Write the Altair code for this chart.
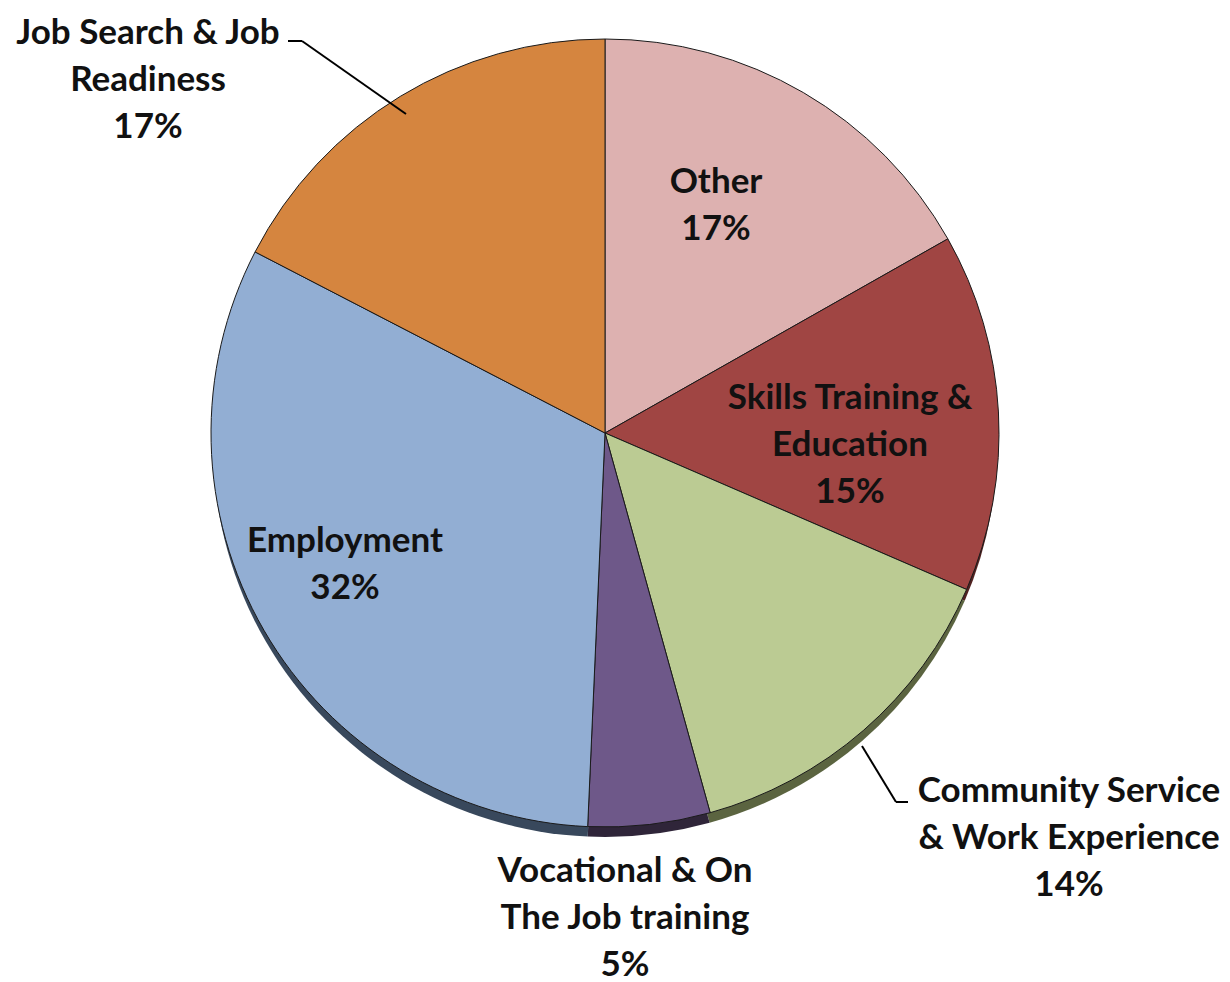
import altair as alt
import pandas as pd

categories = ["Other", "Skills Training & Education", "Community Service & Work Experience",
              "Vocational & On The Job training", "Employment", "Job Search & Job Readiness"]
values = [16.8, 14.7, 14.2, 5.0, 31.9, 17.4]
pct_labels = [17, 15, 14, 5, 32, 17]
label_lines = [
    ["Other"],
    ["Skills Training &", "Education"],
    ["Community Service", "& Work Experience"],
    ["Vocational & On", "The Job training"],
    ["Employment"],
    ["Job Search & Job", "Readiness"],
]
colors = ["#DDB1B0", "#A04543", "#BBCB93", "#6E5889", "#92AED3", "#D5853F"]
shadow_colors = ["#6E5858", "#502221", "#5B6440", "#2F2539", "#38485C", "#6A421F"]

df = pd.DataFrame({"category": categories, "value": values, "order": list(range(len(categories)))})

CX, CY, R = 597, 425, 394
FONT = "Lato"

theta = alt.Theta("value:Q", stack=True)
order = alt.Order("order:Q")

shadow = alt.Chart(df).mark_arc(outerRadius=R - 2, strokeWidth=0).encode(
    theta=theta, order=order,
    color=alt.Color("category:N", scale=alt.Scale(domain=categories, range=shadow_colors), legend=None),
    x=alt.value(CX), y=alt.value(CY + 12),
)
pie = alt.Chart(df).mark_arc(outerRadius=R, stroke="#1a1a1a", strokeWidth=1).encode(
    theta=theta, order=order,
    fill=alt.Fill("category:N", scale=alt.Scale(domain=categories, range=colors), legend=None),
    x=alt.value(CX), y=alt.value(CY),
)

# label anchor positions (centre of first line) in chart coordinates
label_pos = [(708, 174), (842, 390), (1061, 783), (617, 863), (337, 533), (140, 25)]

layers = [shadow, pie]
for cat, lines, pct, (lx, ly) in zip(categories, label_lines, pct_labels, label_pos):
    txt = "\n".join(lines + [f"{pct}%"])
    ldf = pd.DataFrame({"label": [txt]})
    layers.append(
        alt.Chart(ldf).mark_text(
            font=FONT, fontWeight="bold", fontSize=35, lineBreak="\n", lineHeight=47,
            align="center", baseline="middle", color="#111111",
        ).encode(text="label:N", x=alt.value(lx), y=alt.value(ly))
    )

# leader lines
leaders = [
    [(280, 33), (294, 33)], [(294, 33), (398, 106)],
    [(854, 738), (888, 794)], [(888, 794), (900, 794)],
]
for (x1, y1), (x2, y2) in leaders:
    layers.append(
        alt.Chart(pd.DataFrame({"a": [0]})).mark_rule(color="#000000", strokeWidth=2).encode(
            x=alt.value(x1), y=alt.value(y1), x2=alt.value(x2), y2=alt.value(y2)
        )
    )

chart = alt.layer(*layers).properties(
    width=1214, height=982, autosize="none", padding=0
).configure_view(stroke=None)

chart.save("out.html", embed_options={"renderer": "svg", "actions": False})
